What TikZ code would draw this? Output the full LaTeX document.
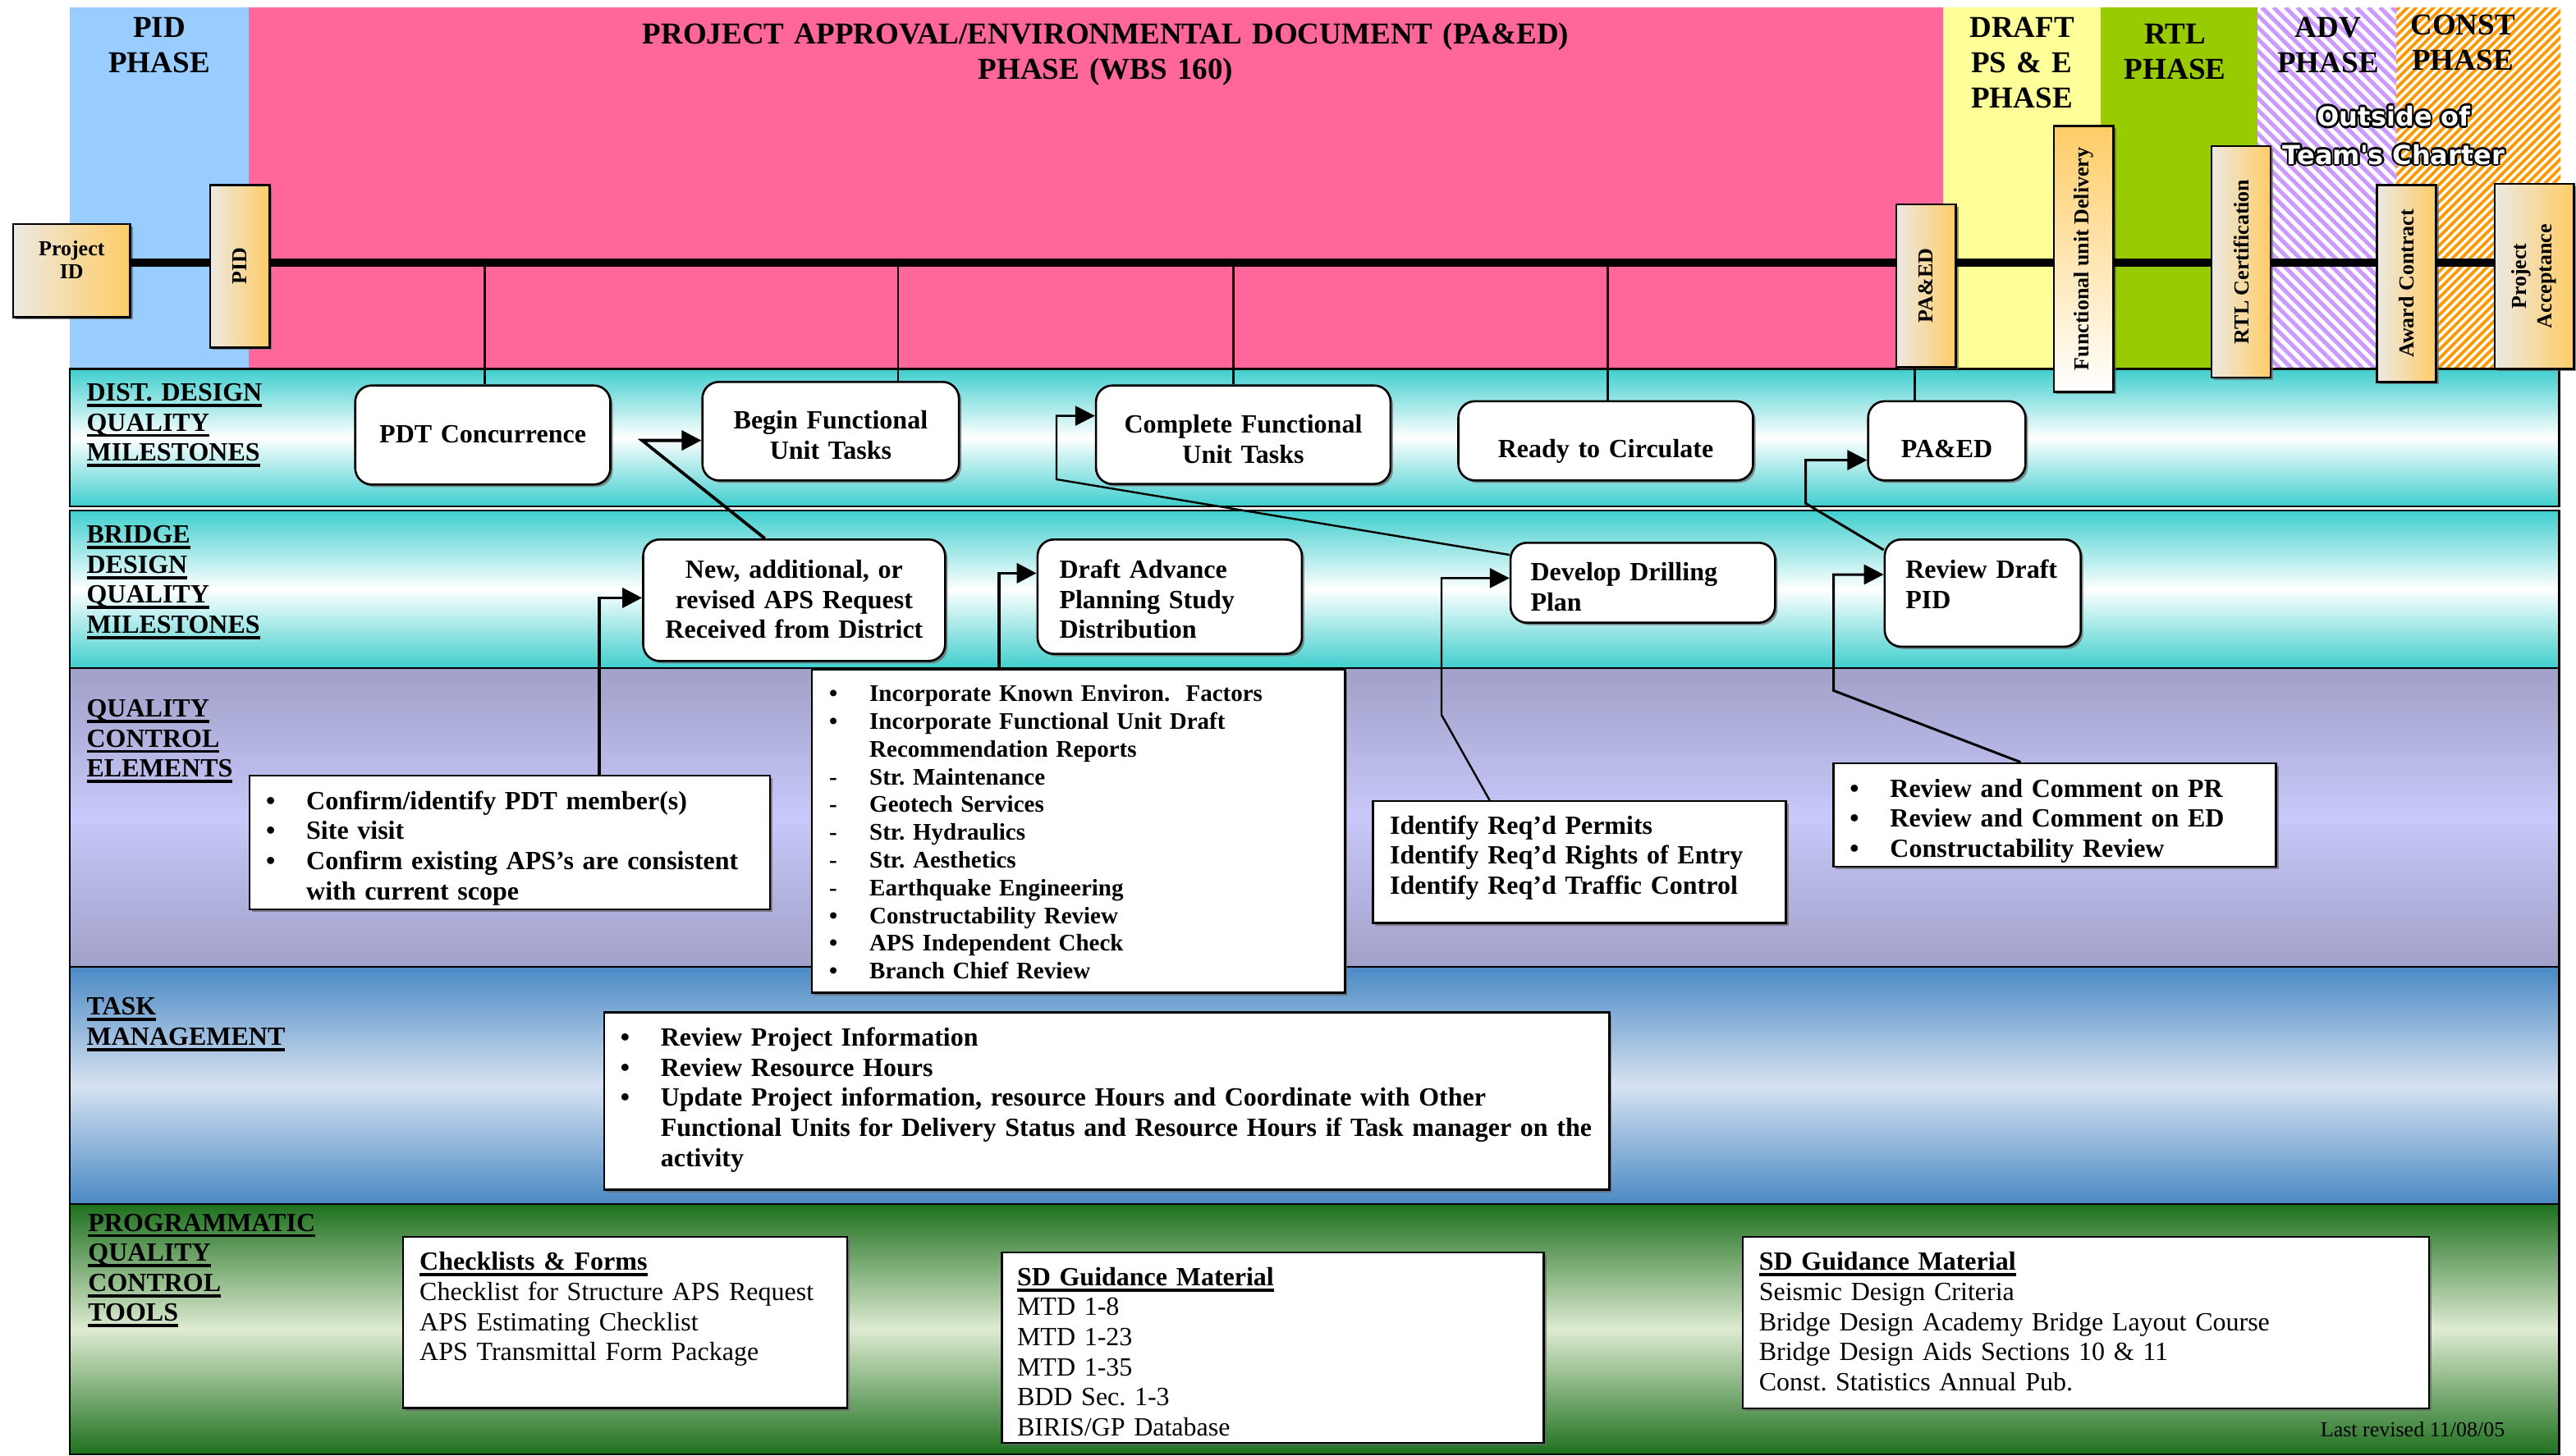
\documentclass[tikz,border=0pt]{standalone}
\usepackage{fontspec}
\setmainfont{Liberation Serif}
\newfontfamily\outlinefont{DejaVu Sans}
\usetikzlibrary{arrows.meta,shadows}
\frenchspacing
\definecolor{pidblue}{RGB}{153,204,255}
\definecolor{paedpink}{RGB}{255,102,153}
\definecolor{draftyel}{RGB}{255,255,153}
\definecolor{rtlgreen}{RGB}{153,204,0}
\definecolor{advpurple}{RGB}{204,153,255}
\definecolor{constorange}{RGB}{255,153,0}
\definecolor{tealrow}{RGB}{64,206,206}
\definecolor{qctop}{RGB}{160,160,200}
\definecolor{qcmid}{RGB}{200,200,250}
\definecolor{tmtop}{RGB}{74,137,196}
\definecolor{tmmid}{RGB}{214,226,241}
\definecolor{pgtop}{RGB}{30,112,30}
\definecolor{pgmid}{RGB}{222,235,210}
\definecolor{msleft}{RGB}{236,233,226}
\definecolor{msright}{RGB}{255,204,102}
\newsavebox\ulbox
\newcommand\ulx[1]{\leavevmode\sbox\ulbox{#1}\rlap{\rule[-3.7pt]{\wd\ulbox}{1.9pt}}\usebox\ulbox}
\newcommand\bul{\makebox[24.5pt][l]{•}}
\newcommand\dsh{\makebox[24.5pt][l]{-}}
\newcommand\ind{\hspace*{24.5pt}}
\newcommand\fnNode{\fontsize{16}{18.3}\selectfont\bfseries}
\newcommand\fnList{\fontsize{14.5}{16.9}\selectfont\bfseries}
\newcommand\fnHead{\fontsize{18.5}{21.6}\selectfont\bfseries}
\newcommand\fnMile{\fontsize{13}{15.5}\selectfont\bfseries}
\newcommand\fnReg{\fontsize{16}{18.3}\selectfont\mdseries}
\newcommand\fnSmall{\fontsize{13}{15}\selectfont\mdseries}
\newcommand\fnOut{\outlinefont\fontsize{16}{23.3}\selectfont\bfseries}
\begin{document}
\begin{tikzpicture}[x=1pt,y=-1pt,
  shad/.style={drop shadow={shadow xshift=1.5pt,shadow yshift=-1.5pt,fill=black!60,opacity=0.7}},
  ms/.style={draw,line width=1.3pt,shad,inner sep=0pt,anchor=north west},
  msh/.style={left color=msleft,right color=msright},
  rbox/.style={draw,line width=1.3pt,fill=white,rounded corners=10pt,shad,anchor=north west,inner ysep=0pt,font=\fnNode},
  tbox/.style={draw,line width=1.2pt,fill=white,shad,anchor=north west,inner ysep=0pt,align=left},
  lab/.style={anchor=base west,inner sep=0pt,text width=160pt,align=left,font=\fnNode},
  head/.style={anchor=base,inner sep=0pt,align=center,font=\fnHead},
  outtext/.style={anchor=base,inner sep=0pt,align=center,text width=170pt,font=\fnOut},
  vconn/.style={line width=1.3pt},
  arrthick/.style={line width=1.9pt,-{Triangle[length=12pt,width=12pt]}},
  arrmid/.style={line width=1.5pt,-{Triangle[length=12pt,width=12pt]}},
  arrthin/.style={line width=1.2pt,-{Triangle[length=12pt,width=12pt]}},
  timeline/.style={line width=4.6pt},
  rowline/.style={line width=1.3pt}
]
\useasboundingbox (0,0) rectangle (1569,886.5);
\fill[white] (0,0) rectangle (1569,886.5);
% phase bands
\fill[pidblue] (42.5,4.5) rectangle (151.5,224.7);
\fill[paedpink] (151.5,4.5) rectangle (1183.6,224.7);
\fill[draftyel] (1183.6,4.5) rectangle (1279.6,224.7);
\fill[rtlgreen] (1279.6,4.5) rectangle (1375,224.7);
\begin{scope}
  \clip (1375,4.5) rectangle (1459.4,224.7);
  \fill[white] (1375,4.5) rectangle (1459.4,224.7);
  \foreach \k in {0,...,48} \draw[advpurple,line width=2.5pt] (1140+\k*7.2,4.5) -- ++(232,232);
\end{scope}
\begin{scope}
  \clip (1459.4,4.5) rectangle (1559.6,224.7);
  \fill[white] (1459.4,4.5) rectangle (1559.6,224.7);
  \foreach \k in {0,...,66} \draw[constorange,line width=1.9pt] (1225+\k*5.3,224.7) -- ++(232,-232);
\end{scope}
% rows
\draw[rowline,top color=tealrow,bottom color=tealrow,middle color=white] (42.5,224.7) rectangle (1558.8,308.5);
\draw[rowline,top color=tealrow,bottom color=tealrow,middle color=white] (42.5,311) rectangle (1558.8,407);
\draw[rowline,top color=qctop,bottom color=qctop,middle color=qcmid] (42.5,407) rectangle (1558.8,589);
\draw[rowline,top color=tmtop,bottom color=tmtop,middle color=tmmid] (42.5,589) rectangle (1558.8,733.5);
\draw[rowline,top color=pgtop,bottom color=pgtop,middle color=pgmid] (42.5,733.5) rectangle (1558.8,886);
% phase headers
\node[head,text width=100pt] (hpid) at (97,22.5) {PID\\PHASE};
\node[head,text width=760pt] (hpaed) at (673.5,26.7) {PROJECT APPROVAL/ENVIRONMENTAL DOCUMENT (PA\&ED)\\PHASE (WBS 160)};
\node[head,text width=95pt] (hdraft) at (1231.5,22.5) {DRAFT\\PS \& E\\PHASE};
\node[head,text width=95pt] (hrtl) at (1324.8,26.7) {RTL\\PHASE};
\node[head,text width=84pt] (hadv) at (1418,22.5) {ADV\\PHASE};
\node[head,text width=100pt] (hconst) at (1500,21.3) {CONST\\PHASE};
\foreach \dx/\dy [count=\k] in {1.3/0,-1.3/0,0/1.3,0/-1.3,0.92/0.92,-0.92/0.92,0.92/-0.92,-0.92/-0.92}
  \node[outtext,text=black,xshift=\dx pt,yshift=\dy pt] (outsh\k) at (1458,76.7) {Outside of\\Team's Charter};
\node[outtext,text=white] (outside) at (1458,76.7) {Outside of\\Team's Charter};
% timeline coordinates
\coordinate (tl) at (0,160);
\coordinate (v1) at (295.3,160);
\coordinate (v2) at (547,160);
\coordinate (v3) at (751.2,160);
\coordinate (v4) at (979.3,160);
\coordinate (v5) at (1166.2,160);
% milestone boxes
\node[ms,msh,minimum width=71.2pt,minimum height=56.7pt,text width=71.2pt,align=center,text height=19.2pt,text depth=37.5pt,font=\fontsize{13}{14.2}\selectfont\bfseries] (projid) at (7.4,135.8) {Project\\ID};
\node[ms,msh,minimum width=36.2pt,minimum height=99pt,label={[rotate=90,font=\fnMile]center:PID}] (pid) at (127.3,112) {};
\node[ms,msh,minimum width=36.3pt,minimum height=99.2pt,label={[rotate=90,font=\fnMile]center:PA\&ED}] (paedm) at (1154.4,123.8) {};
\node[ms,top color=msright,bottom color=white,minimum width=36.3pt,minimum height=162pt,label={[rotate=90,font=\fnMile]center:Functional unit Delivery}] (fud) at (1250.4,76) {};
\node[ms,msh,minimum width=36pt,minimum height=141pt,label={[rotate=90,font=\fnMile]center:RTL Certification}] (rtlc) at (1346.4,88.3) {};
\node[ms,msh,minimum width=36pt,minimum height=120pt,label={[rotate=90,font=\fnMile]center:Award Contract}] (award) at (1447.2,112) {};
\node[ms,msh,minimum width=48.2pt,minimum height=112.7pt,label={[rotate=90,font=\fnMile,align=center]center:Project\\Acceptance}] (projacc) at (1518.8,111.3) {};
% dist design nodes
\node[rbox,align=center,inner xsep=8pt,text width=139.4pt,text height=35pt,text depth=25.3pt] (pdt) at (215.7,234.2) {PDT Concurrence};
\node[rbox,align=center,inner xsep=8pt,text width=140.2pt,text height=28.8pt,text depth=31.2pt] (bfu) at (427.2,232) {Begin Functional\\Unit Tasks};
\node[rbox,align=center,inner xsep=8pt,text width=163.4pt,text height=29.1pt,text depth=30.9pt] (cfu) at (666.9,234.2) {Complete Functional\\Unit Tasks};
\node[rbox,align=center,inner xsep=8pt,text width=163.5pt,text height=34.5pt,text depth=13.7pt] (rtc) at (887.6,243.8) {Ready to Circulate};
\node[rbox,align=center,inner xsep=8pt,text width=79.8pt,text height=34.5pt,text depth=13.7pt] (paed) at (1137.2,243.8) {PA\&ED};
% bridge nodes
\node[rbox,align=center,inner xsep=8pt,text width=167.9pt,text height=23.7pt,text depth=50.3pt] (aps) at (391.1,328) {New, additional, or\\revised APS Request\\Received from District};
\node[rbox,align=left,inner xsep=13.3pt,text width=134.4pt,text height=23.7pt,text depth=46pt] (dap) at (631.3,328) {Draft Advance\\Planning Study\\Distribution};
\node[rbox,align=left,inner xsep=12.2pt,text width=136.7pt,text height=23.3pt,text depth=25.4pt] (ddp) at (919.4,330) {Develop Drilling\\Plan};
\node[rbox,align=left,inner xsep=12.7pt,text width=94pt,text height=23.7pt,text depth=41.6pt] (rdp) at (1147.3,328) {Review Draft\\PID};
% quality control boxes
\node[tbox,font=\fnNode,inner xsep=10pt,text width=296.8pt,text height=20.5pt,text depth=60.8pt] (conf) at (151.5,472) {\bul Confirm/identify PDT member(s)\\\bul Site visit\\\bul Confirm existing APS’s are consistent\\\ind with current scope};
\node[tbox,font=\fnList,inner xsep=10.5pt,text width=303.6pt,text height=19.2pt,text depth=177.5pt] (list) at (494,407.5) {\bul Incorporate Known Environ.\ \ Factors\\\bul Incorporate Functional Unit Draft\\\ind Recommendation Reports\\\dsh Str. Maintenance\\\dsh Geotech Services\\\dsh Str. Hydraulics\\\dsh Str. Aesthetics\\\dsh Earthquake Engineering\\\bul Constructability Review\\\bul APS Independent Check\\\bul Branch Chief Review};
\node[tbox,font=\fnNode,inner xsep=10.4pt,text width=230.8pt,text height=20pt,text depth=54.2pt] (ident) at (835.6,487.5) {Identify Req’d Permits\\Identify Req’d Rights of Entry\\Identify Req’d Traffic Control};
\node[tbox,font=\fnNode,inner xsep=10pt,text width=249.6pt,text height=20.7pt,text depth=42.5pt] (rev) at (1116.1,464.3) {\bul Review and Comment on PR\\\bul Review and Comment on ED\\\bul Constructability Review};
% task management
\node[tbox,font=\fnNode,inner xsep=10pt,text width=592.3pt,text height=20.5pt,text depth=87.5pt] (task) at (367.3,616.2) {\bul Review Project Information\\\bul Review Resource Hours\\\bul Update Project information, resource Hours and Coordinate with Other\\\ind Functional Units for Delivery Status and Resource Hours if Task manager on the\\\ind activity};
% programmatic
\node[tbox,font=\fnReg,inner xsep=10.1pt,text width=250.2pt,text height=20.5pt,text depth=83.9pt] (chk) at (244.9,752.8) {\textbf{\ulx{Checklists \& Forms}}\\Checklist for Structure APS Request\\APS Estimating Checklist\\APS Transmittal Form Package};
\node[tbox,font=\fnReg,inner xsep=9.2pt,text width=311.6pt,text height=20pt,text depth=95.8pt] (sd1) at (609.7,762.5) {\textbf{\ulx{SD Guidance Material}}\\MTD 1-8\\MTD 1-23\\MTD 1-35\\BDD Sec. 1-3\\BIRIS/GP Database};
\node[tbox,font=\fnReg,inner xsep=9.9pt,text width=398.2pt,text height=20.5pt,text depth=84.2pt] (sd2) at (1060.9,752.8) {\textbf{\ulx{SD Guidance Material}}\\Seismic Design Criteria\\Bridge Design Academy Bridge Layout Course\\Bridge Design Aids Sections 10 \& 11\\Const. Statistics Annual Pub.};
\node[anchor=base east,inner sep=0pt,font=\fnSmall] (revdate) at (1525.8,875) {Last revised 11/08/05};
% row labels
\node[lab] (ldist) at (52.6,244.2) {\ulx{DIST. DESIGN}\\\ulx{QUALITY}\\\ulx{MILESTONES}};
\node[lab] (lbridge) at (52.6,330.8) {\ulx{BRIDGE}\\\ulx{DESIGN}\\\ulx{QUALITY}\\\ulx{MILESTONES}};
\node[lab] (lqc) at (52.6,436.7) {\ulx{QUALITY}\\\ulx{CONTROL}\\\ulx{ELEMENTS}};
\node[lab] (ltask) at (52.6,618.3) {\ulx{TASK}\\\ulx{MANAGEMENT}};
\node[lab] (lprog) at (53.5,750) {\ulx{PROGRAMMATIC}\\\ulx{QUALITY}\\\ulx{CONTROL}\\\ulx{TOOLS}};
% timeline segments between milestone boxes
\draw[timeline] (projid.east |- tl) -- (pid.west |- tl);
\draw[timeline] (pid.east |- tl) -- (paedm.west |- tl);
\draw[timeline] (paedm.east |- tl) -- (fud.west |- tl);
\draw[timeline] (fud.east |- tl) -- (rtlc.west |- tl);
\draw[timeline] (rtlc.east |- tl) -- (award.west |- tl);
\draw[timeline] (award.east |- tl) -- (projacc.west |- tl);
% vertical connectors
\draw[vconn] (v1) -- (v1 |- pdt.north);
\draw[vconn] (v2) -- (v2 |- bfu.north);
\draw[vconn] (v3) -- (v3 |- cfu.north);
\draw[vconn] (v4) -- (v4 |- rtc.north);
\draw[vconn] (v5 |- paedm.south) -- (v5 |- paed.north);
% arrows
\coordinate (a1s) at (465.8,0);
\coordinate (a1m) at (391.1,268.3);
\draw[arrthick] (a1s |- aps.north) -- (a1m) -- (a1m -| bfu.west);
\coordinate (a2s) at (0,338);
\coordinate (a2a) at (643.5,292);
\coordinate (a2b) at (643.5,253.3);
\draw[arrthin] (ddp.west |- a2s) -- (a2a) -- (a2b) -- (a2b -| cfu.west);
\coordinate (a3s) at (0,335);
\coordinate (a3a) at (1099.8,306.7);
\coordinate (a3b) at (1099.8,280.3);
\draw[arrmid] (rdp.west |- a3s) -- (a3a) -- (a3b) -- (a3b -| paed.west);
\coordinate (a4b) at (364.8,364.2);
\draw[arrthick] (a4b |- conf.north) -- (a4b) -- (a4b -| aps.west);
\coordinate (a5b) at (608.3,349.2);
\draw[arrthick] (a5b |- list.north) -- (a5b) -- (a5b -| dap.west);
\coordinate (a6s) at (907.3,0);
\coordinate (a6a) at (878,435.5);
\coordinate (a6b) at (878,352.2);
\draw[arrthin] (a6s |- ident.north) -- (a6a) -- (a6b) -- (a6b -| ddp.west);
\coordinate (a7s) at (1230.7,0);
\coordinate (a7a) at (1116.8,420.7);
\coordinate (a7b) at (1116.8,350);
\draw[arrmid] (a7s |- rev.north) -- (a7a) -- (a7b) -- (a7b -| rdp.west);
\end{tikzpicture}
\end{document}
